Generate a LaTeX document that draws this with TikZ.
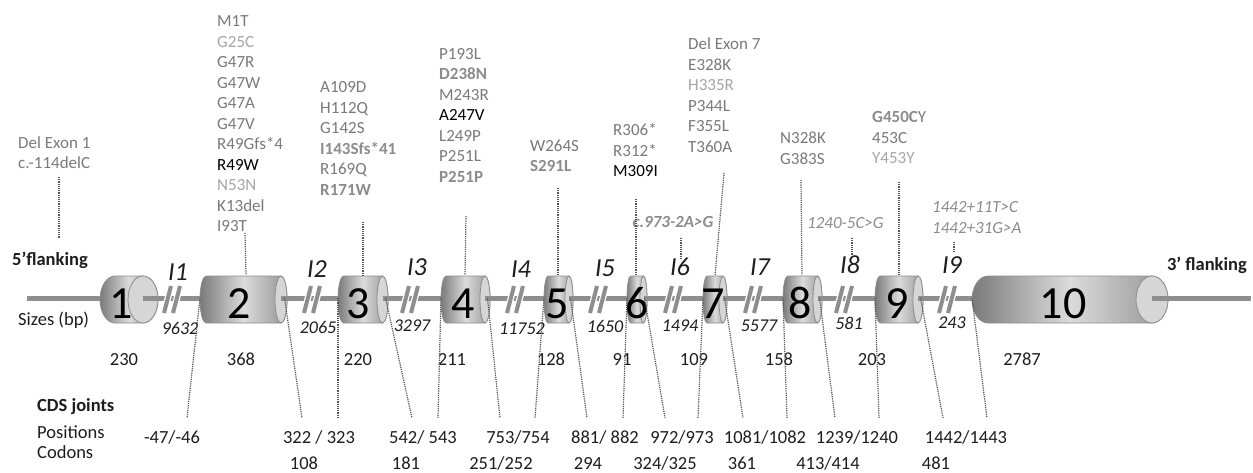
\documentclass[tikz,border=0pt]{standalone}
\usepackage{fontspec}
\setmainfont{Carlito}
\usepackage{xcolor}
\usepackage{tikz}
\usetikzlibrary{positioning, calc}

\definecolor{mutgray}{HTML}{7A7A7A}
\definecolor{mutlight}{HTML}{A6A6A6}
\definecolor{hlgray}{HTML}{8C8C8C}
\definecolor{linegray}{HTML}{8E8E8E}
\definecolor{dotgray}{HTML}{555555}
\definecolor{txtdark}{HTML}{1E1E1E}

\newcommand{\mutbold}[1]{{\bfseries\color{hlgray}#1}}
\newcommand{\mutlite}[1]{{\color{mutlight}#1}}
\newcommand{\mutblack}[1]{{\color{black}#1}}

\begin{document}
\begin{tikzpicture}[x=1pt, y=-1pt,
    exonbody/.style={left color=black!52, right color=black!42,
                     middle color=black!14, draw=linegray, line width=0.8pt},
    exoncap/.style={fill=black!16, draw=linegray, line width=0.8pt},
    exonnum/.style={anchor=base, inner sep=0pt, font=\fontsize{46}{46}\selectfont},
    backbone/.style={draw=linegray, line width=5pt},
    cutwhite/.style={draw=white, line width=6.5pt},
    cutmark/.style={draw=linegray, line width=4pt},
    mutgroup/.style={anchor=base west, align=left, inner sep=0pt, text=mutgray,
                     font=\fontsize{17}{20.5}\selectfont},
    intron/.style={anchor=base, inner sep=0pt, text=txtdark,
                   font=\fontsize{26}{26}\selectfont\itshape},
    isize/.style={anchor=base, inner sep=0pt, text=txtdark,
                  font=\fontsize{18}{18}\selectfont\itshape},
    numtext/.style={anchor=base, inner sep=0pt, text=txtdark,
                    font=\fontsize{18.5}{18.5}\selectfont},
    rowname/.style={anchor=base west, inner sep=0pt, text=txtdark,
                    font=\fontsize{18.5}{18.5}\selectfont},
    joint/.style={draw=dotgray, densely dotted, line width=1.2pt},
    pointer/.style={draw=dotgray, densely dotted, line width=1.2pt},
]

% ── Frame ──
\fill[white] (0,0) rectangle (1253,472);
\useasboundingbox (0,0) rectangle (1253,472);

% ── Exons (cylinders) ──
\foreach \n/\xl/\xr/\rx in {1/100/158/15, 2/200/287/6, 3/338/388/5.5,
    4/441/490/5, 5/544/573/4, 6/627/647/3.5, 7/703/727/4, 8/783/822/4.5,
    9/875/923/5, 10/972/1168/16}{
  \path[exonbody] (\xl+\rx,276) -- (\xr-\rx,276)
    arc[start angle=-90, end angle=90, x radius=\rx, y radius=23.5]
    -- (\xl+\rx,323)
    arc[start angle=90, end angle=270, x radius=\rx, y radius=23.5] -- cycle;
  \path[exoncap] (\xr-\rx,299.5) ellipse[x radius=\rx, y radius=23.5];
  \coordinate (l\n) at (\xl,298);
  \coordinate (c\n) at (\xr-\rx,298);
  \coordinate (r\n) at (\xr-2.5,298);
}

% ── Backbone ──
\coordinate (start) at (27,298);
\coordinate (stop) at (1251,298);
\draw[backbone] (start) -- (l1);
\foreach \a/\b in {1/2, 2/3, 3/4, 4/5, 5/6, 6/7, 7/8, 8/9, 9/10}
  \draw[backbone] (c\a) -- (l\b);
\draw[backbone] (c10) -- (stop);

% ── Intron cuts ──
\foreach \c in {172, 312, 410, 515, 598, 673, 753, 844, 947}{
  \draw[cutwhite] (\c-8,313) -- (\c-1,286);
  \draw[cutwhite] (\c+1,313) -- (\c+8,286);
  \draw[cutmark] (\c-8,313) -- (\c-1,286);
  \draw[cutmark] (\c+1,313) -- (\c+8,286);
}

% ── Exon numbers ──
\foreach \n/\x in {1/121, 2/239, 3/358, 4/463, 5/557, 6/637, 7/713,
    8/800, 9/897, 10/1063}
  \node[exonnum] (n\n) at (\x,318) {\n};

% ── Introns ──
\foreach \n/\x/\y in {1/178/280, 2/317/277, 3/417/275, 4/521/277, 5/605/276,
    6/680/275, 7/760/275, 8/850/273, 9/952/273}
  \node[intron] (i\n) at (\x,\y) {I\n};
\foreach \n/\x/\y/\t in {1/180/334/9632, 2/318/333/2065, 3/412/331/3297,
    4/522/334/11752, 5/605/332/1650, 6/680/331/1494, 7/759/331/5577,
    8/849/329/581, 9/952/328/243}
  \node[isize] (is\n) at (\x,\y) {\t};

% ── Exon sizes ──
\foreach \n/\x/\t in {1/124/230, 2/241/368, 3/358/220, 4/452/211, 5/551/128,
    6/622/91, 7/694/109, 8/779/158, 9/872/203, 10/1022/2787}
  \node[numtext] (es\n) at (\x,365) {\t};

% ── Row names ──
\node[rowname, font=\fontsize{18.5}{18.5}\selectfont\bfseries] (five) at (12,265) {5’flanking};
\node[rowname, anchor=base east, font=\fontsize{18.5}{18.5}\selectfont\bfseries]
  (three) at (1247,270) {3’ flanking};
\node[rowname] (sizes) at (18,325) {Sizes (bp)};
\node[rowname, font=\fontsize{18.5}{18.5}\selectfont\bfseries] (cdsj) at (37,411) {CDS joints};
\node[rowname] (posn) at (37,438.5) {Positions};
\node[rowname] (codn) at (37,458) {Codons};

% ── CDS joint positions ──
\node[numtext] (p1) at (172,443) {-47/-46};
\node[numtext] (p2) at (319,443) {322 / 323};
\node[numtext] (p3) at (423,443) {542/ 543};
\node[numtext] (p4) at (518,443) {753/754};
\node[numtext] (p5) at (605,443) {881/ 882};
\node[numtext] (p6) at (682,443) {972/973};
\node[numtext] (p7) at (765,443) {1081/1082};
\node[numtext] (p8) at (857,443) {1239/1240};
\node[numtext] (p9) at (966,443) {1442/1443};

% ── Codons ──
\node[numtext] (k1) at (304,469) {108};
\node[numtext] (k2) at (406,469) {181};
\node[numtext] (k3) at (501,469) {251/252};
\node[numtext] (k4) at (588,469) {294};
\node[numtext] (k5) at (665,469) {324/325};
\node[numtext] (k6) at (742,469) {361};
\node[numtext] (k7) at (828,469) {413/414};
\node[numtext] (k8) at (936,469) {481};

% ── Joint connectors ──
\foreach \s/\x [count=\i] in {l2/187, r2/302, l3/338, r3/412, l4/438, r4/500,
    l5/535, r5/587, l6/623, r6/665, l7/698, r7/743, l8/787, r8/835,
    l9/879, r9/943, l10/987}{
  \coordinate (j\i) at (\x,418);
  \draw[joint] (\s) -- (j\i);
}

% ── Mutations (anchored on the last line) ──
\node[mutgroup] (g1) at (18,168.5) {Del Exon 1\\c.-114delC};
\node[mutgroup] (g2) at (217,231.5) {M1T\\\mutlite{G25C}\\G47R\\G47W\\G47A\\G47V\\
  R49Gfs*4\\\mutblack{R49W}\\\mutlite{N53N}\\K13del\\I93T};
\node[mutgroup] (g3) at (320,195) {A109D\\H112Q\\G142S\\\mutbold{I143Sfs*41}\\
  R169Q\\\mutbold{R171W}};
\node[mutgroup] (g4) at (439,182) {P193L\\\mutbold{D238N}\\M243R\\\mutblack{A247V}\\
  L249P\\P251L\\\mutbold{P251P}};
\node[mutgroup] (g5) at (530,171.5) {W264S\\\mutbold{S291L}};
\node[mutgroup] (g6) at (613,176.5) {R306*\\R312*\\\mutblack{M309I}};
\node[mutgroup] (g7) at (688,152) {Del Exon 7\\E328K\\\mutlite{H335R}\\P344L\\
  F355L\\T360A};
\node[mutgroup] (g8) at (780,164) {N328K\\G383S};
\node[mutgroup] (g9) at (872,163.5) {\mutbold{G450C}Y\\453C\\\mutlite{Y453Y}};
\node[mutgroup, anchor=base, text=hlgray, font=\fontsize{17}{20.5}\selectfont\bfseries\itshape]
  (s6) at (673,227) {c.973-2A>G};
\node[mutgroup, text=hlgray, font=\fontsize{17}{20.5}\selectfont\itshape]
  (s8) at (807,228) {1240-5C>G};
\node[mutgroup, text=hlgray, font=\fontsize{17}{20.5}\selectfont\itshape]
  (s9) at (932,233) {1442+11T>C\\1442+31G>A};

% ── Mutation pointers ──
\foreach \n/\xa/\ya/\xb/\yb in {1/59/177/59/238, 2/245/233/246/275,
    3/363/222/363/275, 4/466/216/465/275, 5/558/188/558/275,
    6/636/199/636/275, 7/724/173/715/276, 8/801/180/802/275,
    9/899/182/899/275, i6/681/238/681/258, i8/852/238/852/255,
    i9/954/242/954/253}{
  \coordinate (ma\n) at (\xa,\ya);
  \coordinate (mb\n) at (\xb,\yb);
  \draw[pointer] (ma\n) -- (mb\n);
}

\end{tikzpicture}
\end{document}
